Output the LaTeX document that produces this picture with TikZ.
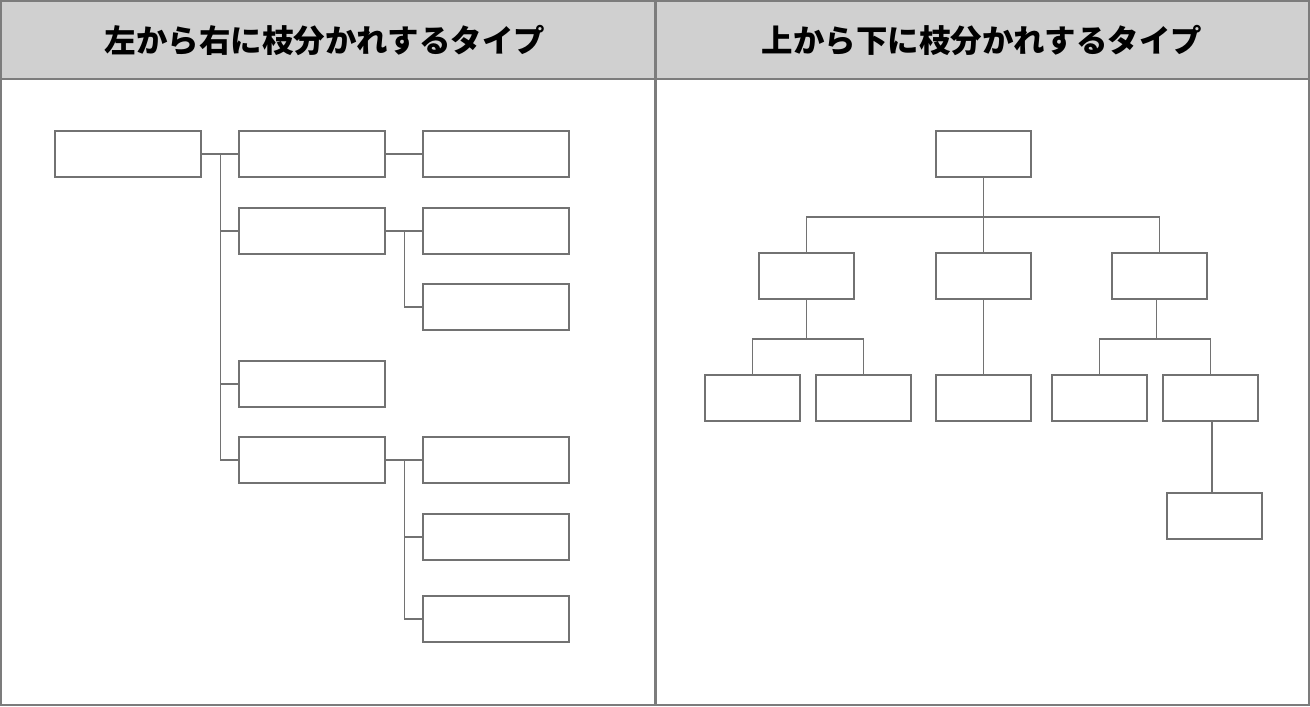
\documentclass[tikz,border=0pt]{standalone}
\usepackage{fontspec}
\newfontfamily\cjk{Noto Sans CJK JP}
\definecolor{linec}{HTML}{727272}
\definecolor{framec}{HTML}{7C7C7C}
\definecolor{headc}{HTML}{D0D0D0}
\begin{document}
\begin{tikzpicture}[x=0.02cm,y=-0.02cm,
  box/.style={draw=linec, line width=0.85pt, fill=white, rectangle, anchor=north west, inner sep=0pt, outer sep=0pt},
  lbox/.style={box, minimum width=2.92cm, minimum height=0.92cm},
  rbox/.style={box, minimum width=1.9cm, minimum height=0.92cm},
  conn/.style={draw=linec, line width=0.9pt},
  frame/.style={draw=framec, line width=1.2pt},
  head/.style={font=\cjk\bfseries\fontsize{17.9}{20}\selectfont, text=black}]
\useasboundingbox (0,0) rectangle (1310,706);
\fill[white] (0,0) rectangle (1310,706);
\fill[headc] (0,0) rectangle (1310,79);
\draw[frame] (1,1) rectangle (1309,705);
\draw[frame] (0,79) -- (1310,79);
\draw[framec, line width=1.7pt] (655,0) -- (655,706);
\node[head] (hl) at (325,41) {左から右に枝分かれするタイプ};
\node[head] (hr) at (982,41) {上から下に枝分かれするタイプ};
% left panel
\node[lbox] (a) at (55,131) {};
\node[lbox] (b1) at (239,131) {};
\node[lbox] (b2) at (239,208) {};
\node[lbox] (b3) at (239,361) {};
\node[lbox] (b4) at (239,437) {};
\node[lbox] (c1) at (423,131) {};
\node[lbox] (c2) at (423,208) {};
\node[lbox] (c3) at (423,284) {};
\node[lbox] (c4) at (423,437) {};
\node[lbox] (c5) at (423,514) {};
\node[lbox] (c6) at (423,596) {};
\coordinate (ta) at (220.5,154);
\coordinate (tc) at (404.5,231);
\coordinate (td) at (404.5,460);
\draw[conn] (a.east) -- (b1.west);
\draw[conn] (ta) |- (b4.west);
\draw[conn] (ta |- b2.west) -- (b2.west);
\draw[conn] (ta |- b3.west) -- (b3.west);
\draw[conn] (b1.east) -- (c1.west);
\draw[conn] (b2.east) -- (c2.west);
\draw[conn] (tc) |- (c3.west);
\draw[conn] (b4.east) -- (c4.west);
\draw[conn] (td) |- (c6.west);
\draw[conn] (td |- c5.west) -- (c5.west);
% right panel
\node[rbox] (r0) at (936,131) {};
\node[rbox] (r1) at (759,253) {};
\node[rbox] (r2) at (936,253) {};
\node[rbox] (r3) at (1112,253) {};
\node[rbox] (s1) at (705,375) {};
\node[rbox] (s2) at (816,375) {};
\node[rbox] (s3) at (936,375) {};
\node[rbox] (s4) at (1052,375) {};
\node[rbox] (s5) at (1163,375) {};
\node[rbox] (u1) at (1167,493) {};
\draw[conn] (r0.south) -- (r2.north);
\draw[conn] (r1.north) -- ++(0,-36) -| (r3.north);
\draw[conn] (r1.south) -- ++(0,40);
\draw[conn] (s1.north) -- ++(0,-36) -| (s2.north);
\draw[conn] (r2.south) -- (s3.north);
\draw[conn] (r3.south) ++(-3,0) -- ++(0,40);
\draw[conn] (s4.north) -- ++(0,-36) -| (s5.north);
\draw[conn] (s5.south) ++(1.5,0) -- ++(0,72);
\end{tikzpicture}
\end{document}
